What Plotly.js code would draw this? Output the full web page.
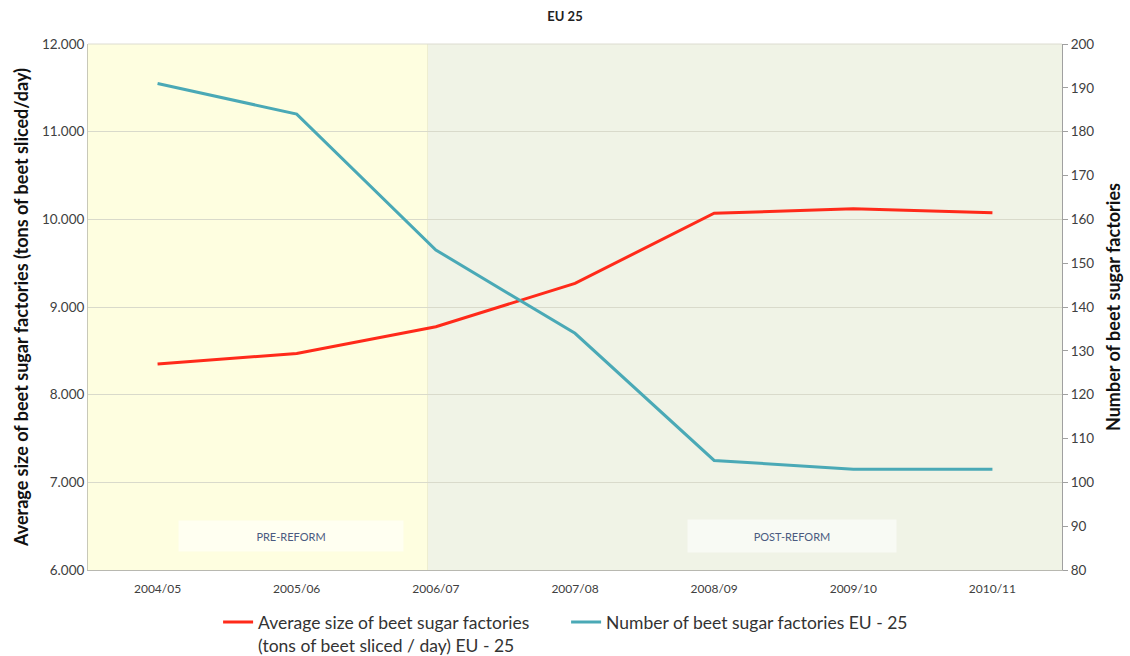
<!DOCTYPE html>
<html>
<head>
<meta charset="utf-8">
<script src="https://cdn.plot.ly/plotly-3.0.1.min.js"></script>
<style>html,body{margin:0;padding:0;background:#fff;}#chart{width:1130px;height:656px;}</style>
</head>
<body>
<div id="chart"></div>
<script>
var seasons = ["2004/05", "2005/06", "2006/07", "2007/08", "2008/09", "2009/10", "2010/11"];
var avgSize = [8350, 8470, 8775, 9270, 10070, 10120, 10075];
var numFactories = [191, 184, 153, 134, 105, 103, 103];
var seriesNames = ["Average size of beet sugar factories<br>(tons of beet sliced / day) EU - 25", "Number of beet sugar factories EU - 25"];

var font = "Lato, 'Open Sans', sans-serif";

var traces = [
  {x: seasons, y: avgSize, name: seriesNames[0], type: "scatter", mode: "lines",
   line: {color: "#ff2a1a", width: 3}, yaxis: "y"},
  {x: seasons, y: numFactories, name: seriesNames[1], type: "scatter", mode: "lines",
   line: {color: "#4aa9b6", width: 3}, yaxis: "y2"}
];

var layout = {
  width: 1130, height: 656,
  margin: {l: 88, r: 68, t: 44, b: 86},
  paper_bgcolor: "#ffffff",
  plot_bgcolor: "#f0f3e6",
  separators: ",.",
  font: {family: font, color: "#404040", size: 12},
  title: {text: "<b>EU 25</b>", x: 0.5, xanchor: "center", y: 0.975, yanchor: "middle",
          font: {family: font, size: 13, color: "#222"}},
  showlegend: true,
  legend: {orientation: "h", xref: "container", yref: "container", x: 0.193, xanchor: "left", y: 0.079, yanchor: "top",
           valign: "top", font: {family: font, size: 17.5, color: "#333"}, traceorder: "normal",
           entrywidth: 303, entrywidthmode: "pixels", bgcolor: "rgba(0,0,0,0)"},
  xaxis: {type: "category", range: [-0.5, 6.5], showgrid: false, showline: true,
          linecolor: "#b8b8b0", linewidth: 1, ticks: "", tickfont: {size: 12, color: "#404040"},
          ticklabelstandoff: 8, zeroline: false, fixedrange: true},
  yaxis: {range: [6000, 12000], dtick: 1000, tickformat: ",d", showgrid: true,
          gridcolor: "#d9dacb", gridwidth: 1, showline: true, linecolor: "#c8c8b8", ticks: "",
          zeroline: false, tickfont: {size: 13.5, color: "#404040"},
          title: {text: "<b>Average size of beet sugar factories (tons of beet sliced/day)</b>",
                  font: {size: 18, color: "#111"}, standoff: 8}},
  yaxis2: {range: [80, 200], dtick: 10, overlaying: "y", side: "right", showgrid: false,
           showline: true, linecolor: "#a0a0a0", ticks: "outside", ticklen: 5, tickcolor: "#a0a0a0",
           zeroline: false, tickfont: {size: 13.5, color: "#404040"},
           title: {text: "<b>Number of beet sugar factories</b>", font: {size: 18, color: "#111"}, standoff: 14}},
  shapes: [
    {type: "rect", xref: "x", yref: "paper", x0: -0.5, x1: 1.94, y0: 0, y1: 1,
     fillcolor: "#fefee0", line: {width: 0}, layer: "below"},
    {type: "line", xref: "x", yref: "paper", x0: 1.94, x1: 1.94, y0: 0, y1: 1,
     line: {color: "#eeeed0", width: 1}, layer: "below"},
    {type: "line", xref: "paper", yref: "paper", x0: 0, x1: 1, y0: 1, y1: 1,
     line: {color: "#dcdcd0", width: 1}, layer: "below"}
  ],
  annotations: [
    {text: "PRE-REFORM", xref: "x", yref: "y", x: 0.96, y: 6390, showarrow: false,
     bgcolor: "rgba(255,255,255,0.55)", width: 222, height: 28, font: {size: 11, color: "#4a5a80"}},
    {text: "POST-REFORM", xref: "x", yref: "y", x: 4.56, y: 6390, showarrow: false,
     bgcolor: "rgba(255,255,255,0.55)", width: 206, height: 30, font: {size: 11, color: "#4a5a80"}}
  ]
};

Plotly.newPlot("chart", traces, layout, {displayModeBar: false, staticPlot: true});
</script>
</body>
</html>
